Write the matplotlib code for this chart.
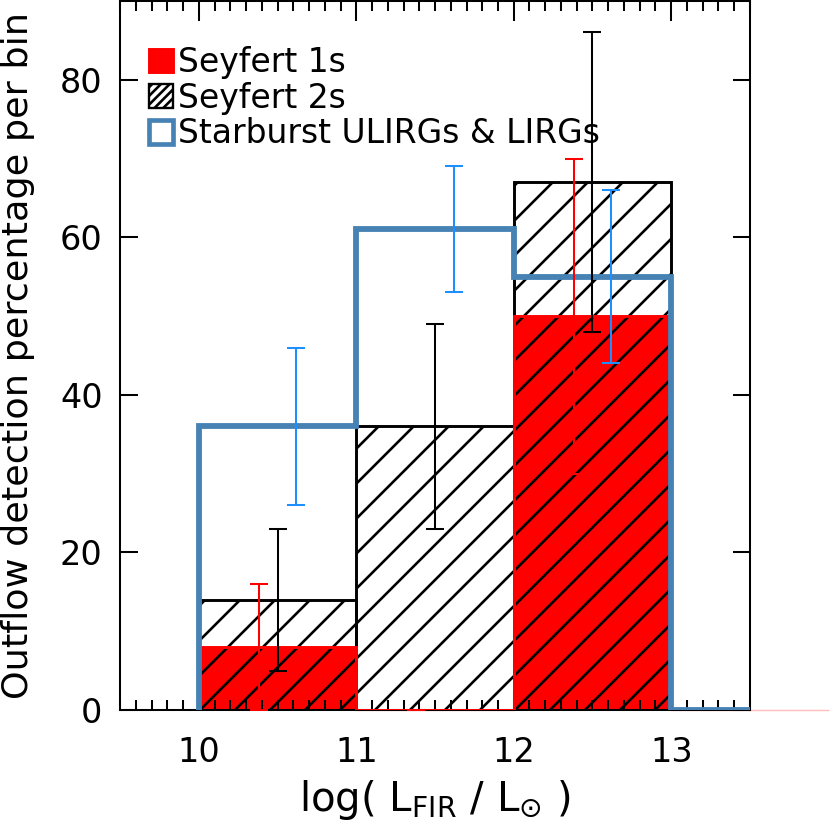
import numpy as np
import matplotlib
matplotlib.use("Agg")
import matplotlib.pyplot as plt
from matplotlib.patches import Patch

# bin edges in log(L_FIR / L_sun)
edges = [10, 11, 12, 13, 14]
centers = [10.5, 11.5, 12.5]

sy1 = [8, 0, 50, 0]
sy1_err = [8, 0, 20]
sy2 = [14, 36, 67]
sy2_err = [9, 13, 19]
sb = [36, 61, 55, 0]
sb_err = [10, 8, 11]

DPI = 210
plt.rcParams['font.family'] = 'DejaVu Sans'
plt.rcParams['mathtext.default'] = 'regular'
plt.rcParams['hatch.linewidth'] = 0.9

fig = plt.figure(figsize=(830 / DPI, 821 / DPI), dpi=DPI)
ax = fig.add_axes([0.1446, 0.1352, 0.759, 0.8636])

# seyfert 1s: filled red histogram
ax.stairs(sy1, edges, fill=True, color='red', lw=0, zorder=1)
ax.stairs(sy1, edges, color='red', lw=1.0, zorder=2.6)
ax.stairs(sy1, edges, color='red', lw=0.5, zorder=1, clip_on=False, alpha=0.25)

# seyfert 2s: hatched boxes
ax.bar(centers, sy2, width=1.0, fill=False, hatch='//', edgecolor='black',
       lw=1.0, zorder=2)

# starburst: blue step outline
ax.stairs(sb, edges, color='#4682B4', lw=2.0, baseline=0, zorder=3)

off = 0.12
ekw = dict(fmt='none', capsize=3, elinewidth=0.7, capthick=0.7, zorder=4)
ax.errorbar(np.array(centers) - off, sy1[:3], yerr=sy1_err, ecolor='red', **ekw)
ax.errorbar(centers, sy2, yerr=sy2_err, ecolor='black', **ekw)
ax.errorbar(np.array(centers) + off, sb[:3], yerr=sb_err, ecolor='#1E8FFF', **ekw)

ax.set_xlim(9.5, 13.5)
ax.set_ylim(0, 90)
ax.set_xticks([10, 11, 12, 13])
ax.set_xticks(np.arange(9.5, 13.51, 0.1), minor=True)
ax.set_yticks([0, 20, 40, 60, 80])
for s in ax.spines.values():
    s.set_linewidth(0.7)
ax.tick_params(which='both', direction='in', top=True, right=True, width=0.7,
               labelsize=11.5)
ax.tick_params(axis='x', which='major', length=7, pad=9)
ax.tick_params(axis='x', which='minor', length=3.5)
ax.tick_params(axis='y', which='major', length=6, pad=6)

ax.set_xlabel(r'log( L$_{FIR}$ / L$_{\odot}$ )', fontsize=13.8, labelpad=3)
ax.set_ylabel('Outflow detection percentage per bin', fontsize=12.5, labelpad=8.5)

handles = [
    Patch(facecolor='red', edgecolor='red'),
    Patch(facecolor='white', edgecolor='black', hatch='/' * 8, lw=0.8),
    Patch(facecolor='white', edgecolor='#4682B4', lw=1.6),
]
labels = ['Seyfert 1s', 'Seyfert 2s', 'Starburst ULIRGs & LIRGs']
ax.legend(handles, labels, loc='upper left', bbox_to_anchor=(0.025, 0.955),
          frameon=False, fontsize=11.3, handlelength=0.72, handleheight=0.72,
          handletextpad=0.15, labelspacing=0.08, borderaxespad=0)

fig.savefig('out.png', dpi=DPI)
